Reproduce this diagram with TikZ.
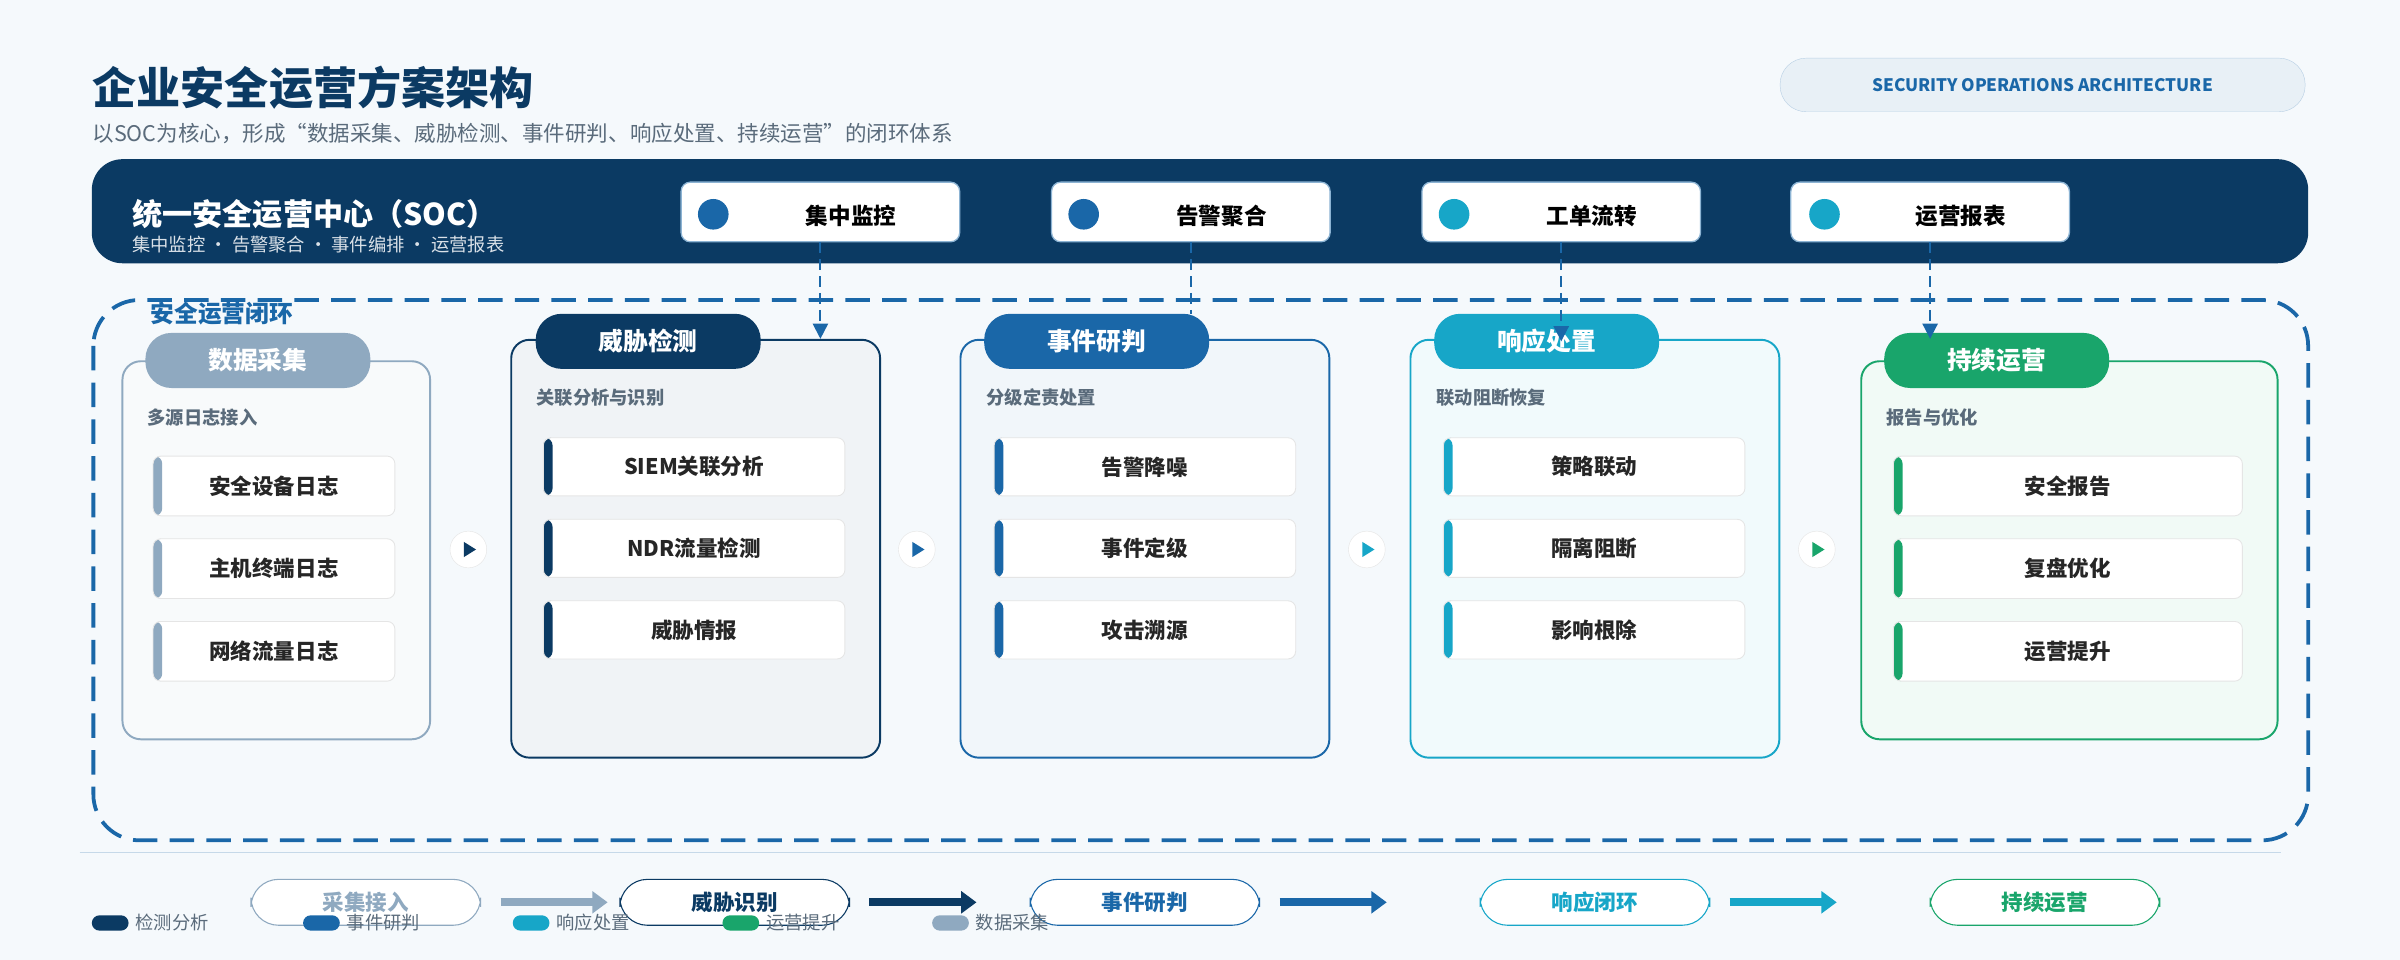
\documentclass[tikz,border=0pt]{standalone}
\usepackage{fontspec}
\setmainfont{Noto Sans CJK SC}
\usetikzlibrary{positioning, arrows.meta, calc}
\definecolor{navy}{HTML}{0B3A63}
\definecolor{sblue}{HTML}{1A67A8}
\definecolor{scyan}{HTML}{17A6C8}
\definecolor{sgreen}{HTML}{19A56B}
\definecolor{sgray}{HTML}{8FA9C0}
\definecolor{bg}{HTML}{F5F9FC}
\definecolor{txt}{HTML}{5A6B7B}
\newcommand{\fs}[1]{\fontsize{#1}{#1}\selectfont}
\tikzset{%
	x=0.5mm, y=-0.5mm,
	pill/.style={draw=#1, fill=white, rounded corners=9mm, line width=1pt,
		minimum width=75mm, minimum height=15mm, text=#1, font=\fs{20pt}\bfseries},
	soctag/.style={draw=sblue!50, fill=white, rounded corners=3mm, line width=1.2pt,
		minimum width=91mm, minimum height=19.5mm},
	card/.style={draw=#1, fill=#1!6, rounded corners=6mm, line width=1.8pt},
	head/.style={fill=#1, rounded corners=8.5mm, minimum width=73.5mm,
		minimum height=18mm, text=white, font=\fs{23pt}\bfseries},
	item/.style={draw=black!10, fill=white, rounded corners=2.5mm, line width=0.8pt,
		font=\fs{20pt}\bfseries, text=black!85,
		path picture={\fill[#1] (path picture bounding box.south west)
			rectangle ([xshift=3mm]path picture bounding box.north west);}},
	desc/.style={anchor=west, font=\fs{17pt}\bfseries, text=txt},
	hop/.style={circle, draw=black!10, fill=white, minimum size=12mm, inner sep=0pt},
	link/.style={sblue, line width=1.8pt, dash pattern=on 3.5mm off 2mm},
	linktip/.style={link, -{Triangle[length=5mm,width=5mm]}},
	flow/.style={-{Triangle[length=5mm,width=7mm]}, line width=2.6mm, #1},
	dot/.style={fill=#1, rounded corners=2.5mm, minimum width=12mm, minimum height=5mm, inner sep=0pt},
	legend/.style={anchor=west, font=\fs{17pt}, text=txt}
}
\begin{document}
\begin{tikzpicture}
	\fill[bg] (0,0) rectangle (1568,627);
	\useasboundingbox (0,0) rectangle (1568,627);

	%title
	\node[anchor=west, text=navy, font=\fs{41pt}\bfseries] (title) at (58,57) {企业安全运营方案架构};
	\node[anchor=west, text=txt, font=\fs{20pt}] (sub) at (58,87) {以SOC为核心，形成“数据采集、威胁检测、事件研判、响应处置、持续运营”的闭环体系};
	\node[draw=sblue!30, fill=sblue!10, rounded corners=8.5mm, minimum width=171.5mm,
		minimum height=17.5mm, text=sblue, font=\fs{16pt}\bfseries] (tag) at (1334.5,55.5) {SECURITY OPERATIONS ARCHITECTURE};

	%soc bar
	\node[fill=navy, rounded corners=10mm, minimum width=724mm, minimum height=34mm] (soc) at (784,138) {};
	\node[anchor=west, text=white, font=\fs{28pt}\bfseries] (soct) at (84,140) {统一安全运营中心（SOC）};
	\node[anchor=west, text=white!85!navy, font=\fs{17pt}] (socs) at (84,160) {集中监控 · 告警聚合 · 事件编排 · 运营报表};

	\node[soctag] (t1) at (536,138.5) {}; \node[font=\fs{21pt}\bfseries] at (556,141) {集中监控};
	\node[soctag] (t2) at (778,138.5) {}; \node[font=\fs{21pt}\bfseries] at (798,141) {告警聚合};
	\node[soctag] (t3) at (1020,138.5) {}; \node[font=\fs{21pt}\bfseries] at (1040,141) {工单流转};
	\node[soctag] (t4) at (1261,138.5) {}; \node[font=\fs{21pt}\bfseries] at (1281,141) {运营报表};
	\fill[sblue] (466,140) circle (5mm);
	\fill[sblue] (708,140) circle (5mm);
	\fill[scyan] (950,140) circle (5mm);
	\fill[scyan] (1192,140) circle (5mm);

	%loop frame
	\draw[sblue, line width=3.5pt, dash pattern=on 8mm off 4mm, rounded corners=15mm] (61,196) rectangle (1508,549);
	\node[anchor=west, text=sblue, font=\fs{22pt}\bfseries] (loop) at (96,205) {安全运营闭环};

	%cards
	\node[card=sgray, minimum width=100.5mm, minimum height=123.5mm] (c1) at (180.5,359.5) {};
	\node[card=navy, minimum width=120.5mm, minimum height=136.5mm] (c2) at (454.5,358.5) {};
	\node[card=sblue, minimum width=120.5mm, minimum height=136.5mm] (c3) at (748,358.5) {};
	\node[card=scyan, minimum width=120.5mm, minimum height=136.5mm] (c4) at (1042,358.5) {};
	\node[card=sgreen, minimum width=136mm, minimum height=123.5mm] (c5) at (1352,359.5) {};

	\node[head=sgray] (h1) at (168.5,235.5) {数据采集};
	\node[head=navy] (h2) at (423.5,223) {威胁检测};
	\node[head=sblue] (h3) at (716.5,223) {事件研判};
	\node[head=scyan] (h4) at (1010.5,223) {响应处置};
	\node[head=sgreen] (h5) at (1304.5,235.5) {持续运营};

	\node[desc] (d1) at (94,273) {多源日志接入};
	\node[desc] (d2) at (348,260) {关联分析与识别};
	\node[desc] (d3) at (642,260) {分级定责处置};
	\node[desc] (d4) at (936,260) {联动阻断恢复};
	\node[desc] (d5) at (1230,273) {报告与优化};

	\foreach \t [count=\i, evaluate=\i as \y using 317.5+54*(\i-1)] in {安全设备日志, 主机终端日志, 网络流量日志}
		\node[item=sgray, minimum width=79mm, minimum height=19.5mm] (a\i) at (179,\y) {\t};
	\foreach \t [count=\i, evaluate=\i as \y using 305+53.25*(\i-1)] in {SIEM关联分析, NDR流量检测, 威胁情报}
		\node[item=navy, minimum width=98.5mm, minimum height=19mm] (b\i) at (453.5,\y) {\t};
	\foreach \t [count=\i, evaluate=\i as \y using 305+53.25*(\i-1)] in {告警降噪, 事件定级, 攻击溯源}
		\node[item=sblue, minimum width=98.5mm, minimum height=19mm] (e\i) at (748,\y) {\t};
	\foreach \t [count=\i, evaluate=\i as \y using 305+53.25*(\i-1)] in {策略联动, 隔离阻断, 影响根除}
		\node[item=scyan, minimum width=98.5mm, minimum height=19mm] (r\i) at (1041.5,\y) {\t};
	\foreach \t [count=\i, evaluate=\i as \y using 317.5+54*(\i-1)] in {安全报告, 复盘优化, 运营提升}
		\node[item=sgreen, minimum width=114mm, minimum height=19.5mm] (o\i) at (1351,\y) {\t};

	%hops between cards
	\foreach \x/\c [count=\i] in {306/navy, 599/sblue, 893/scyan, 1187/sgreen} {
		\node[hop] (s\i) at (\x,359) {};
		\fill[\c] ($(s\i)+(-3,-5)$) -- ($(s\i)+(5,0)$) -- ($(s\i)+(-3,5)$) -- cycle;
	}

	%soc links
	\draw[linktip] (t1.south) -- (t1.south |- c2.north);
	\draw[link] (t2.south) -- (t2.south |- h3.north);
	\draw[linktip] (t3.south) -- (t3.south |- h4.center);
	\draw[linktip] (t4.south) -- (t4.south |- c2.north);

	%bottom flow
	\draw[sblue!25, line width=1.2pt] (52,557) -- (1490,557);
	\node[pill=sgray] (f1) at (239,589.5) {采集接入};
	\node[pill=navy] (f2) at (480,589.5) {威胁识别};
	\node[pill=sblue] (f3) at (748,589.5) {事件研判};
	\node[pill=scyan] (f4) at (1042,589.5) {响应闭环};
	\node[pill=sgreen] (f5) at (1336,589.5) {持续运营};
	\draw[flow=sgray] (f1) ++(88,0) coordinate (p1) -- ++(70,0);
	\draw[flow=navy] (f2) ++(88,0) coordinate (p2) -- ++(70,0);
	\draw[flow=sblue] (f3) ++(88,0) coordinate (p3) -- ++(70,0);
	\draw[flow=scyan] (f4) ++(88,0) coordinate (p4) -- ++(70,0);

	%legend
	\foreach \x/\c/\t [count=\i] in {72/navy/检测分析, 210/sblue/事件研判, 347/scyan/响应处置, 484/sgreen/运营提升, 621/sgray/数据采集} {
		\node[dot=\c] (l\i) at (\x,603) {};
		\node[legend, right=1mm of l\i] {\t};
	}
\end{tikzpicture}
\end{document}
